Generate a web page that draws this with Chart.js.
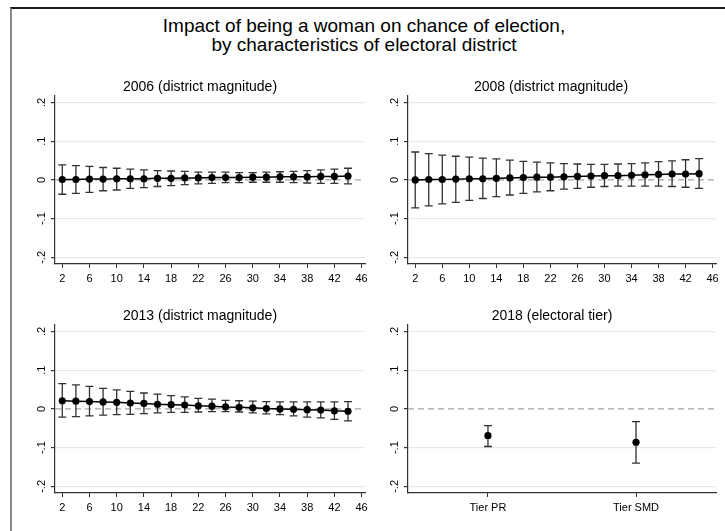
<!DOCTYPE html>
<html>
<head>
<meta charset="utf-8">
<script src="https://cdn.jsdelivr.net/npm/chart.js@4/dist/chart.umd.min.js"></script>
<style>
  body { margin: 0; width: 725px; height: 531px; overflow: hidden; background: #fff; position: relative;
         font-family: "Liberation Sans", Arial, sans-serif; }
  #frame { position: absolute; left: 10px; top: 7px; width: 760px; height: 560px;
           border-top: 2px solid #1a1a1a; border-left: 2px solid #8a8a8a; }
  #title { position: absolute; left: 0; top: 16px; width: 728px; text-align: center;
           font-size: 19px; line-height: 19px; color: #000; }
  canvas { position: absolute; }
</style>
</head>
<body>
<div id="frame"></div>
<div id="title">Impact of being a woman on chance of election,<br>by characteristics of electoral district</div>
<canvas id="p2006" width="360" height="215" style="left:20px;top:79px"></canvas>
<canvas id="p2008" width="350" height="215" style="left:376px;top:79px"></canvas>
<canvas id="p2013" width="360" height="215" style="left:20px;top:308px"></canvas>
<canvas id="p2018" width="348" height="215" style="left:378px;top:308px"></canvas>
<script>
// district magnitudes (x) and axis ticks
const magnitudes = [2, 4, 6, 8, 10, 12, 14, 16, 18, 20, 22, 24, 26, 28, 30, 32, 34, 36, 38, 40, 42, 44];
const xTicks = [2, 6, 10, 14, 18, 22, 26, 30, 34, 38, 42, 46];
const yTicks = [-0.2, -0.1, 0, 0.1, 0.2];

// 2006
const est2006 = [0.001, 0.001, 0.002, 0.002, 0.003, 0.003, 0.003, 0.004, 0.004, 0.005, 0.005,
                 0.006, 0.006, 0.006, 0.007, 0.007, 0.008, 0.008, 0.008, 0.009, 0.009, 0.010];
const lo2006 = [-0.037, -0.035, -0.032, -0.028, -0.026, -0.022, -0.020, -0.017, -0.015, -0.012, -0.010,
                -0.009, -0.007, -0.007, -0.006, -0.006, -0.006, -0.007, -0.008, -0.009, -0.009, -0.010];
const hi2006 = [0.039, 0.037, 0.035, 0.032, 0.030, 0.028, 0.026, 0.024, 0.023, 0.022, 0.020,
                0.020, 0.020, 0.019, 0.019, 0.020, 0.021, 0.022, 0.024, 0.026, 0.028, 0.030];

// 2008
const est2008 = [0.000, 0.001, 0.001, 0.002, 0.003, 0.003, 0.004, 0.005, 0.006, 0.007, 0.007,
                 0.008, 0.009, 0.010, 0.011, 0.011, 0.012, 0.013, 0.014, 0.015, 0.015, 0.016];
const lo2008 = [-0.072, -0.067, -0.062, -0.058, -0.053, -0.048, -0.043, -0.039, -0.035, -0.031, -0.028,
                -0.024, -0.022, -0.019, -0.017, -0.016, -0.016, -0.016, -0.016, -0.017, -0.019, -0.022];
const hi2008 = [0.072, 0.068, 0.064, 0.061, 0.059, 0.056, 0.054, 0.051, 0.048, 0.046, 0.044,
                0.042, 0.041, 0.040, 0.040, 0.041, 0.042, 0.044, 0.047, 0.049, 0.052, 0.055];

// 2013
const est2013 = [0.021, 0.020, 0.019, 0.018, 0.017, 0.015, 0.014, 0.012, 0.011, 0.010, 0.008,
                 0.007, 0.005, 0.004, 0.003, 0.001, 0.000, -0.001, -0.002, -0.003, -0.005, -0.006];
const lo2013 = [-0.021, -0.020, -0.018, -0.016, -0.015, -0.014, -0.012, -0.010, -0.009, -0.009, -0.008,
                -0.007, -0.007, -0.008, -0.010, -0.013, -0.015, -0.018, -0.021, -0.023, -0.027, -0.031];
const hi2013 = [0.065, 0.062, 0.058, 0.053, 0.049, 0.045, 0.041, 0.038, 0.034, 0.031, 0.027,
                0.025, 0.022, 0.021, 0.020, 0.019, 0.018, 0.018, 0.018, 0.018, 0.018, 0.019];

// 2018 (electoral tier)
const tiers = ["Tier PR", "Tier SMD"];
const est2018 = [-0.069, -0.086];
const lo2018 = [-0.097, -0.140];
const hi2018 = [-0.043, -0.033];

const fmtY = v => v === 0 ? "0" : (v < 0 ? "-" : "") + String(Math.abs(v)).replace(/^0/, "");

// zero line, CI caps and vertical y labels
const statPlot = {
  id: "statPlot",
  beforeDatasetsDraw(chart) {
    const { ctx, chartArea, scales: { x, y } } = chart;
    const ds = chart.data.datasets[0];
    ctx.save();
    ctx.strokeStyle = "#8f8f8f";
    ctx.lineWidth = 1;
    ctx.setLineDash([6, 4]);
    const y0 = y.getPixelForValue(0);
    ctx.beginPath();
    ctx.moveTo(chartArea.left, y0);
    ctx.lineTo(chartArea.right, y0);
    ctx.stroke();
    ctx.setLineDash([]);
    ctx.strokeStyle = "#333";
    ctx.lineWidth = 1.3;
    ds.data.forEach((p, i) => {
      const px = x.getPixelForValue(p.x);
      const top = y.getPixelForValue(ds.hi[i]);
      const bot = y.getPixelForValue(ds.lo[i]);
      ctx.beginPath();
      ctx.moveTo(px, top); ctx.lineTo(px, bot);
      ctx.moveTo(px - 4, top); ctx.lineTo(px + 4, top);
      ctx.moveTo(px - 4, bot); ctx.lineTo(px + 4, bot);
      ctx.stroke();
    });
    ctx.restore();
  },
  afterDraw(chart) {
    const { ctx, scales: { y } } = chart;
    ctx.save();
    ctx.fillStyle = "#000";
    ctx.font = '11px "Liberation Sans", Arial, sans-serif';
    ctx.textAlign = "center";
    ctx.textBaseline = "middle";
    yTicks.forEach(v => {
      ctx.save();
      ctx.translate(y.left + y.width - 13, y.getPixelForValue(v));
      ctx.rotate(-Math.PI / 2);
      ctx.fillText(fmtY(v), 0, 0);
      ctx.restore();
    });
    ctx.restore();
  }
};

function makePanel(id, title, xs, est, lo, hi, o) {
  new Chart(document.getElementById(id), {
    type: "line",
    data: {
      datasets: [{
        data: xs.map((v, i) => ({ x: v, y: est[i] })),
        lo: lo,
        hi: hi,
        showLine: o.showLine,
        borderColor: "#000",
        borderWidth: 1.5,
        pointRadius: 3.6,
        pointBackgroundColor: "#000",
        pointBorderColor: "#000",
        pointBorderWidth: 0,
      }],
    },
    options: {
      responsive: false,
      animation: false,
      layout: { padding: 0 },
      plugins: {
        legend: { display: false },
        tooltip: { enabled: false },
        title: {
          display: true,
          text: title,
          color: "#000",
          font: { size: 14, weight: "normal", family: '"Liberation Sans", Arial, sans-serif' },
          padding: { top: 0, bottom: 0 },
        },
      },
      scales: {
        x: {
          type: "linear",
          min: o.xMin,
          max: o.xMax,
          afterBuildTicks: s => { s.ticks = o.xTicks.map(v => ({ value: v })); },
          afterFit: s => { s.height = 30; s.paddingLeft = 0; s.paddingRight = o.padRight; },
          ticks: {
            color: "#000",
            padding: 4,
            maxRotation: 0,
            autoSkip: false,
            font: { size: 11, family: '"Liberation Sans", Arial, sans-serif' },
            callback: o.xLabel,
          },
          grid: { drawOnChartArea: false, drawTicks: true, tickLength: 4, tickColor: "#333", tickWidth: 1 },
          border: { display: true, color: "#333", width: 1.2 },
        },
        y: {
          type: "linear",
          min: -0.217,
          max: 0.217,
          afterBuildTicks: s => { s.ticks = yTicks.map(v => ({ value: v })); },
          afterFit: s => { s.width = o.yWidth; s.paddingTop = 0; s.paddingBottom = 0; },
          ticks: { display: false },
          grid: {
            color: c => c.tick && c.tick.value === 0 ? "rgba(0,0,0,0)" : "#e9e9e9",
            lineWidth: 1.2,
            drawTicks: true,
            tickLength: 4,
            tickColor: "#333",
          },
          border: { display: true, color: "#333", width: 1.2 },
        },
      },
    },
    plugins: [statPlot],
  });
}

const magOpts = { showLine: true, xMin: 0.93, xMax: 46.5, xTicks: xTicks, xLabel: v => String(v) };

makePanel("p2006", "2006 (district magnitude)", magnitudes, est2006, lo2006, hi2006,
  Object.assign({}, magOpts, { padRight: 15, yWidth: 35 }));
makePanel("p2008", "2008 (district magnitude)", magnitudes, est2008, lo2008, hi2008,
  Object.assign({}, magOpts, { padRight: 10, yWidth: 32 }));
makePanel("p2013", "2013 (district magnitude)", magnitudes, est2013, lo2013, hi2013,
  Object.assign({}, magOpts, { padRight: 15, yWidth: 35 }));
makePanel("p2018", "2018 (electoral tier)", tiers.map((t, i) => i + 1), est2018, lo2018, hi2018,
  { showLine: false, xMin: 0.46, xMax: 2.54, xTicks: [1, 2], xLabel: v => tiers[v - 1],
    padRight: 10, yWidth: 30 });
</script>
</body>
</html>
